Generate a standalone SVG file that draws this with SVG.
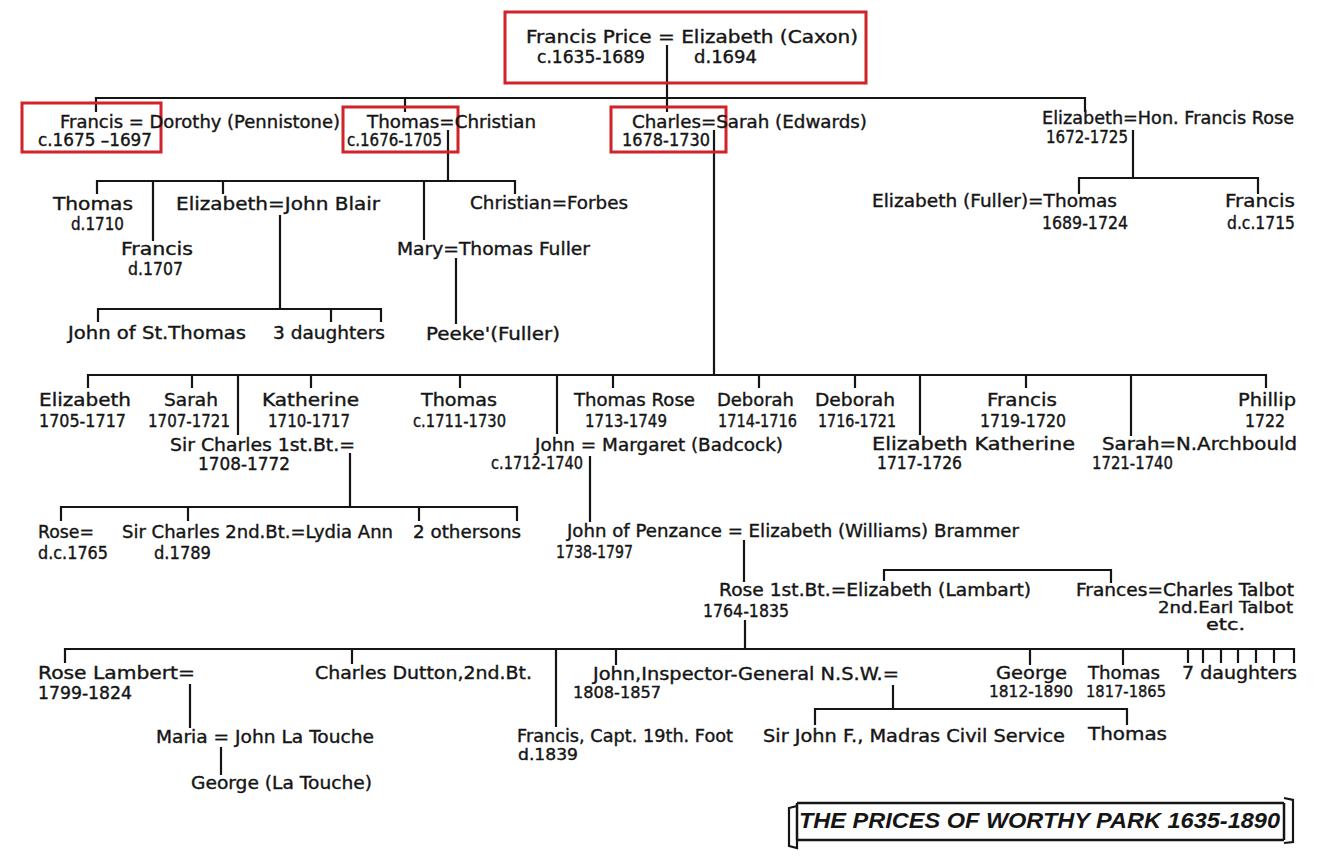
<svg xmlns="http://www.w3.org/2000/svg" width="1341" height="865" viewBox="0 0 1341 865">
<style>
.t{font-family:"DejaVu Sans","Liberation Sans",sans-serif;font-size:18.5px;fill:#151515;stroke:#151515;stroke-width:0.4}
.d{font-size:17px}
.s{font-size:16px}
.ln{stroke:#151515;stroke-width:2.2;fill:none}
.box{fill:none;stroke:#d0232a;stroke-width:3}
.title{font-family:"Liberation Sans",sans-serif;font-size:22px;font-weight:bold;font-style:italic;fill:#151515}
</style>
<rect width="1341" height="865" fill="#ffffff"/>
<g id="connectors" class="ln">
<path d="M667 45V112M96 112V98H1085V112M405 98V112"/>
<path d="M448 130V181M97 194V181H515V194M153 181V241M223 181V194M424 181V240"/>
<path d="M280 215V309M98 322V309H381V322M331 309V322M456 258V324"/>
<path d="M714 130V375M1133 130V178M1079 194V178H1258V194"/>
<path d="M88 388V375H1266V388M192 375V388M238 375V435M311 375V388M460 375V388M557 375V434M613 375V388M759 375V388M855 375V388M920 375V435M1026 375V388M1131 375V436"/>
<path d="M350 453V507M61 521V507H517V521M188 507V521M419 507V521"/>
<path d="M590 456V522M744 540V582M884 581V570H1111V583"/>
<path d="M745 620V649M65 663V649H1294V663M352 649V664M556 649V727M616 649V665M1030 649V665M1123 649V665M1188 649V663M1203 649V663M1221 649V663M1238 649V663M1256 649V663M1274 649V663"/>
<path d="M893 685V709M815 725V709H1127V725M190 684V728M221 747V775"/>
</g>
<g id="highlights">
<rect class="box" x="505" y="12" width="361" height="71"/>
<rect class="box" x="22" y="103" width="139" height="49"/>
<rect class="box" x="343" y="107" width="115" height="45"/>
<rect class="box" x="611" y="107" width="115" height="45"/>
</g>
<g id="n-francis-price" class="t">
<text x="526" y="43" textLength="332" lengthAdjust="spacingAndGlyphs">Francis Price = Elizabeth (Caxon)</text>
<text class="d" x="537" y="63" textLength="108" lengthAdjust="spacingAndGlyphs">c.1635-1689</text>
<text class="d" x="694" y="63" textLength="63" lengthAdjust="spacingAndGlyphs">d.1694</text>
</g>
<g id="n-francis" class="t">
<text x="60" y="128" textLength="280" lengthAdjust="spacingAndGlyphs">Francis = Dorothy (Pennistone)</text>
<text class="d" x="38" y="146" textLength="114" lengthAdjust="spacingAndGlyphs">c.1675 –1697</text>
</g>
<g id="n-thomas" class="t">
<text x="367" y="128" textLength="169" lengthAdjust="spacingAndGlyphs">Thomas=Christian</text>
<text class="d" x="347" y="146" textLength="95" lengthAdjust="spacingAndGlyphs">c.1676-1705</text>
</g>
<g id="n-charles" class="t">
<text x="632" y="128" textLength="235" lengthAdjust="spacingAndGlyphs">Charles=Sarah (Edwards)</text>
<text class="d" x="622" y="146" textLength="88" lengthAdjust="spacingAndGlyphs">1678-1730</text>
</g>
<g id="n-elizabeth-rose" class="t">
<text x="1042" y="124" textLength="252" lengthAdjust="spacingAndGlyphs">Elizabeth=Hon. Francis Rose</text>
<text class="d" x="1046" y="143" textLength="82" lengthAdjust="spacingAndGlyphs">1672-1725</text>
</g>
<g id="n-thomas-1710" class="t">
<text x="53" y="210" textLength="80" lengthAdjust="spacingAndGlyphs">Thomas</text>
<text class="d" x="71" y="230" textLength="53" lengthAdjust="spacingAndGlyphs">d.1710</text>
</g>
<g id="n-francis-1707" class="t">
<text x="121" y="255" textLength="72" lengthAdjust="spacingAndGlyphs">Francis</text>
<text class="d" x="128" y="275" textLength="55" lengthAdjust="spacingAndGlyphs">d.1707</text>
</g>
<g id="n-elizabeth-blair" class="t">
<text x="176" y="210" textLength="204" lengthAdjust="spacingAndGlyphs">Elizabeth=John Blair</text>
</g>
<g id="n-christian-forbes" class="t">
<text x="470" y="209" textLength="158" lengthAdjust="spacingAndGlyphs">Christian=Forbes</text>
</g>
<g id="n-mary-fuller" class="t">
<text x="397" y="255" textLength="193" lengthAdjust="spacingAndGlyphs">Mary=Thomas Fuller</text>
</g>
<g id="n-john-st-thomas" class="t">
<text x="68" y="339" textLength="178" lengthAdjust="spacingAndGlyphs">John of St.Thomas</text>
</g>
<g id="n-3-daughters" class="t">
<text x="273" y="339" textLength="112" lengthAdjust="spacingAndGlyphs">3 daughters</text>
</g>
<g id="n-peeke" class="t">
<text x="426" y="340" textLength="134" lengthAdjust="spacingAndGlyphs">Peeke'(Fuller)</text>
</g>
<g id="n-thomas-1689" class="t">
<text x="872" y="207" textLength="245" lengthAdjust="spacingAndGlyphs">Elizabeth (Fuller)=Thomas</text>
<text class="d" x="1042" y="229" textLength="86" lengthAdjust="spacingAndGlyphs">1689-1724</text>
</g>
<g id="n-francis-1715" class="t">
<text x="1225" y="207" textLength="70" lengthAdjust="spacingAndGlyphs">Francis</text>
<text class="d" x="1227" y="229" textLength="68" lengthAdjust="spacingAndGlyphs">d.c.1715</text>
</g>
<g id="n-elizabeth-1705" class="t">
<text x="39" y="406" textLength="92" lengthAdjust="spacingAndGlyphs">Elizabeth</text>
<text class="d" x="39" y="427" textLength="87" lengthAdjust="spacingAndGlyphs">1705-1717</text>
</g>
<g id="n-sarah-1707" class="t">
<text x="164" y="406" textLength="54" lengthAdjust="spacingAndGlyphs">Sarah</text>
<text class="d" x="148" y="427" textLength="82" lengthAdjust="spacingAndGlyphs">1707-1721</text>
</g>
<g id="n-katherine-1710" class="t">
<text x="262" y="406" textLength="97" lengthAdjust="spacingAndGlyphs">Katherine</text>
<text class="d" x="268" y="427" textLength="82" lengthAdjust="spacingAndGlyphs">1710-1717</text>
</g>
<g id="n-thomas-1711" class="t">
<text x="421" y="406" textLength="76" lengthAdjust="spacingAndGlyphs">Thomas</text>
<text class="d" x="413" y="427" textLength="93" lengthAdjust="spacingAndGlyphs">c.1711-1730</text>
</g>
<g id="n-thomas-rose" class="t">
<text x="574" y="406" textLength="121" lengthAdjust="spacingAndGlyphs">Thomas Rose</text>
<text class="d" x="585" y="427" textLength="82" lengthAdjust="spacingAndGlyphs">1713-1749</text>
</g>
<g id="n-deborah-1714" class="t">
<text x="717" y="406" textLength="77" lengthAdjust="spacingAndGlyphs">Deborah</text>
<text class="d" x="718" y="427" textLength="79" lengthAdjust="spacingAndGlyphs">1714-1716</text>
</g>
<g id="n-deborah-1716" class="t">
<text x="815" y="406" textLength="80" lengthAdjust="spacingAndGlyphs">Deborah</text>
<text class="d" x="818" y="427" textLength="78" lengthAdjust="spacingAndGlyphs">1716-1721</text>
</g>
<g id="n-francis-1719" class="t">
<text x="987" y="406" textLength="70" lengthAdjust="spacingAndGlyphs">Francis</text>
<text class="d" x="980" y="427" textLength="86" lengthAdjust="spacingAndGlyphs">1719-1720</text>
</g>
<g id="n-phillip" class="t">
<text x="1238" y="406" textLength="58" lengthAdjust="spacingAndGlyphs">Phillip</text>
<text class="d" x="1245" y="427" textLength="40" lengthAdjust="spacingAndGlyphs">1722</text>
</g>
<g id="n-sir-charles-1" class="t">
<text x="170" y="451" textLength="185" lengthAdjust="spacingAndGlyphs">Sir Charles 1st.Bt.=</text>
<text class="d" x="198" y="470" textLength="92" lengthAdjust="spacingAndGlyphs">1708-1772</text>
</g>
<g id="n-john-margaret" class="t">
<text x="535" y="451" textLength="248" lengthAdjust="spacingAndGlyphs">John = Margaret (Badcock)</text>
<text class="d" x="491" y="469" textLength="92" lengthAdjust="spacingAndGlyphs">c.1712-1740</text>
</g>
<g id="n-elizabeth-katherine" class="t">
<text x="872" y="450" textLength="203" lengthAdjust="spacingAndGlyphs">Elizabeth Katherine</text>
<text class="d" x="877" y="469" textLength="85" lengthAdjust="spacingAndGlyphs">1717-1726</text>
</g>
<g id="n-sarah-archbould" class="t">
<text x="1102" y="450" textLength="195" lengthAdjust="spacingAndGlyphs">Sarah=N.Archbould</text>
<text class="d" x="1092" y="469" textLength="81" lengthAdjust="spacingAndGlyphs">1721-1740</text>
</g>
<g id="n-rose-1765" class="t">
<text x="38" y="538" textLength="56" lengthAdjust="spacingAndGlyphs">Rose=</text>
<text class="d" x="38" y="559" textLength="70" lengthAdjust="spacingAndGlyphs">d.c.1765</text>
</g>
<g id="n-sir-charles-2" class="t">
<text x="122" y="538" textLength="271" lengthAdjust="spacingAndGlyphs">Sir Charles 2nd.Bt.=Lydia Ann</text>
<text class="d" x="154" y="559" textLength="57" lengthAdjust="spacingAndGlyphs">d.1789</text>
</g>
<g id="n-2-other-sons" class="t">
<text x="413" y="538" textLength="108" lengthAdjust="spacingAndGlyphs">2 othersons</text>
</g>
<g id="n-john-penzance" class="t">
<text x="567" y="537" textLength="452" lengthAdjust="spacingAndGlyphs">John of Penzance = Elizabeth (Williams) Brammer</text>
<text class="d" x="556" y="558" textLength="77" lengthAdjust="spacingAndGlyphs">1738-1797</text>
</g>
<g id="n-rose-1st-bt" class="t">
<text x="719" y="596" textLength="312" lengthAdjust="spacingAndGlyphs">Rose 1st.Bt.=Elizabeth (Lambart)</text>
<text class="d" x="703" y="617" textLength="86" lengthAdjust="spacingAndGlyphs">1764-1835</text>
</g>
<g id="n-frances-talbot" class="t">
<text class="d" x="1076" y="596" textLength="218" lengthAdjust="spacingAndGlyphs">Frances=Charles Talbot</text>
<text class="s" x="1158" y="613" textLength="135" lengthAdjust="spacingAndGlyphs">2nd.Earl Talbot</text>
<text class="s" x="1206" y="630" textLength="39" lengthAdjust="spacingAndGlyphs">etc.</text>
</g>
<g id="n-rose-lambert" class="t">
<text x="38" y="679" textLength="157" lengthAdjust="spacingAndGlyphs">Rose Lambert=</text>
<text class="d" x="38" y="699" textLength="94" lengthAdjust="spacingAndGlyphs">1799-1824</text>
</g>
<g id="n-charles-dutton" class="t">
<text x="315" y="679" textLength="217" lengthAdjust="spacingAndGlyphs">Charles Dutton,2nd.Bt.</text>
</g>
<g id="n-john-inspector" class="t">
<text x="593" y="680" textLength="306" lengthAdjust="spacingAndGlyphs">John,Inspector-General N.S.W.=</text>
<text class="s" x="573" y="698" textLength="88" lengthAdjust="spacingAndGlyphs">1808-1857</text>
</g>
<g id="n-george-1812" class="t">
<text x="996" y="679" textLength="71" lengthAdjust="spacingAndGlyphs">George</text>
<text class="s" x="989" y="697" textLength="84" lengthAdjust="spacingAndGlyphs">1812-1890</text>
</g>
<g id="n-thomas-1817" class="t">
<text x="1088" y="679" textLength="72" lengthAdjust="spacingAndGlyphs">Thomas</text>
<text class="s" x="1086" y="697" textLength="80" lengthAdjust="spacingAndGlyphs">1817-1865</text>
</g>
<g id="n-7-daughters" class="t">
<text x="1182" y="679" textLength="115" lengthAdjust="spacingAndGlyphs">7 daughters</text>
</g>
<g id="n-francis-capt" class="t">
<text x="517" y="742" textLength="216" lengthAdjust="spacingAndGlyphs">Francis, Capt. 19th. Foot</text>
<text class="s" x="518" y="760" textLength="60" lengthAdjust="spacingAndGlyphs">d.1839</text>
</g>
<g id="n-sir-john-f" class="t">
<text x="763" y="742" textLength="302" lengthAdjust="spacingAndGlyphs">Sir John F., Madras Civil Service</text>
</g>
<g id="n-thomas-last" class="t">
<text x="1088" y="740" textLength="79" lengthAdjust="spacingAndGlyphs">Thomas</text>
</g>
<g id="n-maria" class="t">
<text x="156" y="743" textLength="218" lengthAdjust="spacingAndGlyphs">Maria = John La Touche</text>
</g>
<g id="n-george-latouche" class="t">
<text x="191" y="789" textLength="181" lengthAdjust="spacingAndGlyphs">George (La Touche)</text>
</g>
<g id="title-banner">
<path class="ln" style="stroke-width:2.5" d="M797 803H1284M797 840H1284M797 803V840M1284 803V840"/>
<path class="ln" d="M797 806L789 808V846L797 848V840M1284 798L1293 800V842L1284 843"/>
<text class="title" x="799" y="828" textLength="481" lengthAdjust="spacingAndGlyphs">THE PRICES OF WORTHY PARK 1635-1890</text>
</g>
</svg>
